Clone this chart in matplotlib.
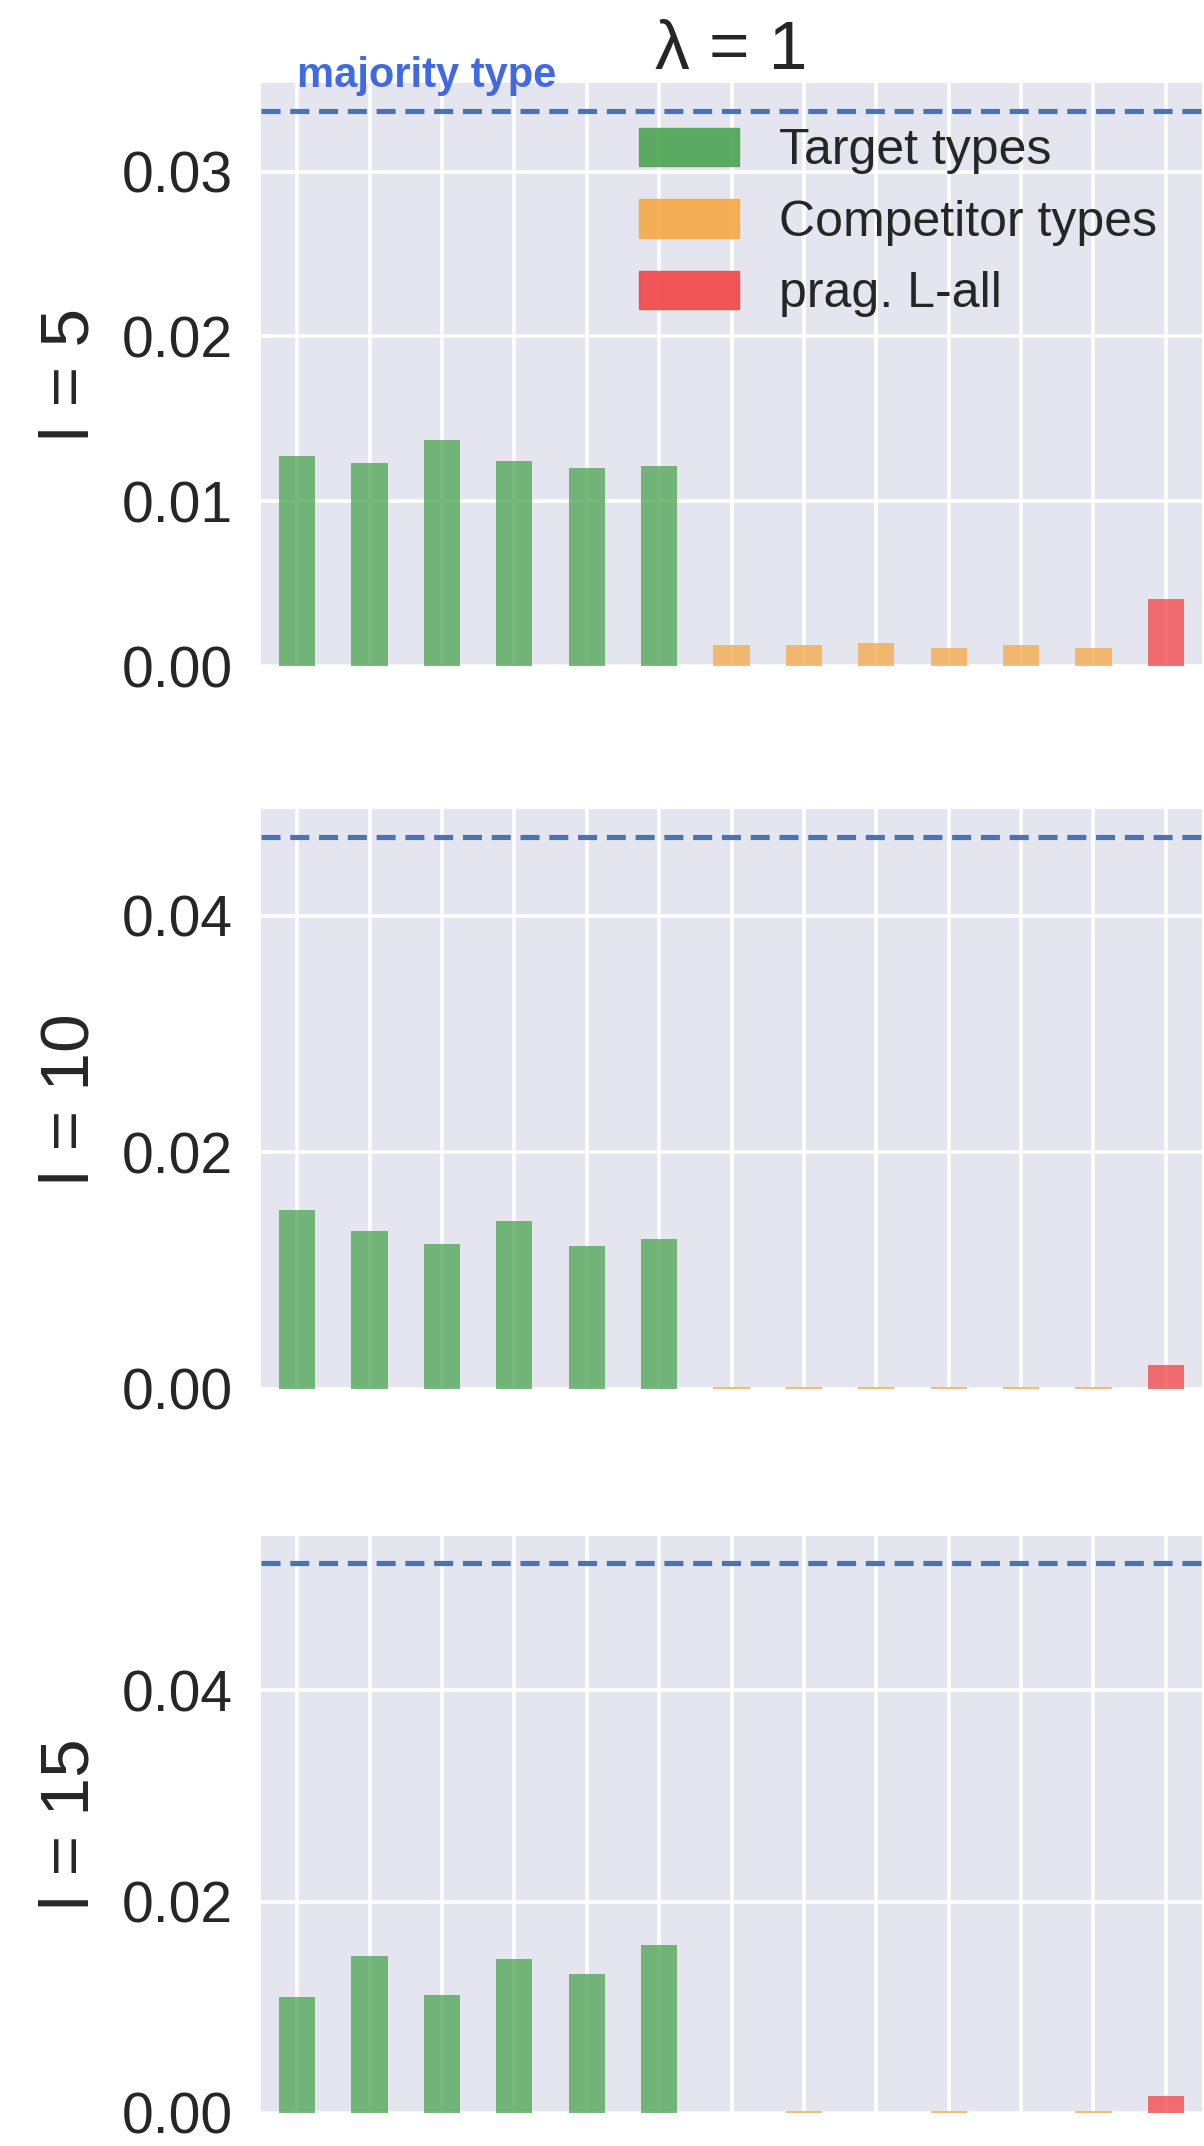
import numpy as np
import matplotlib
matplotlib.use('Agg')
import matplotlib.pyplot as plt
from matplotlib.patches import Patch
from matplotlib.ticker import MultipleLocator

# probability mass per type, lambda = 1
lengths = [5, 10, 15]
target_l5 = [0.01275, 0.0123, 0.01372, 0.01247, 0.0120, 0.01216]
competitor_l5 = [0.00128, 0.00128, 0.00141, 0.00111, 0.00128, 0.00111]
lall_l5 = 0.00407
target_l10 = [0.01512, 0.01333, 0.01226, 0.01424, 0.01206, 0.01271]
competitor_l10 = [0.0002, 0.0002, 0.0002, 0.0002, 0.0002, 0.0002]
lall_l10 = 0.00199
target_l15 = [0.01094, 0.01488, 0.01114, 0.01461, 0.01311, 0.01587]
competitor_l15 = [0.00002, 0.00015, 0.00002, 0.00015, 0.00002, 0.00015]
lall_l15 = 0.00157
majority = [0.0337, 0.0467, 0.0520]
tick_step = [0.01, 0.02, 0.02]

targets = [target_l5, target_l10, target_l15]
competitors = [competitor_l5, competitor_l10, competitor_l15]
lalls = [lall_l5, lall_l10, lall_l15]

green = '#55a75a'
orange = '#f5ac4e'
red = '#f24d4f'
bg = '#e5e5ef'

plt.rcParams['font.family'] = ['Liberation Sans', 'DejaVu Sans']
plt.rcParams['text.color'] = '#262626'
plt.rcParams['axes.labelcolor'] = '#262626'
plt.rcParams['ytick.color'] = '#262626'

W, H = 1204, 2146
fig = plt.figure(figsize=(W / 100, H / 100), dpi=100)

# pixel boxes of the three panels (left, top, right, bottom)
boxes = [(261, 83, 1202, 666), (261, 809, 1202, 1389), (261, 1536, 1202, 2113)]

for i, (l, t, r, b) in enumerate(boxes):
    ax = fig.add_axes([l / W, 1 - b / H, (r - l) / W, (b - t) / H])
    ax.set_facecolor(bg)
    for s in ax.spines.values():
        s.set_visible(False)
    ax.set_axisbelow(True)
    ax.grid(True, color='white', linewidth=2.6)

    heights = list(targets[i]) + list(competitors[i]) + [lalls[i]]
    cols = [green] * 6 + [orange] * 6 + [red]
    x = np.arange(len(heights))
    ax.bar(x, heights, width=0.5, color=cols, alpha=0.8, linewidth=0)

    ax.axhline(majority[i], color='#4c72b0', linewidth=3.7, linestyle=(0, (3.7, 1.9)))

    ax.set_xlim(-0.5, len(heights) - 0.5)
    ax.set_ylim(0, majority[i] * 1.05)
    ax.set_xticks(x)
    ax.set_xticklabels([])
    ax.yaxis.set_major_locator(MultipleLocator(tick_step[i]))
    ax.yaxis.set_major_formatter(plt.FormatStrFormatter('%.2f'))
    ax.tick_params(axis='both', length=0, labelsize=41, pad=20)
    ax.set_ylabel('l = %d' % lengths[i], fontsize=50, labelpad=14)

    if i == 0:
        ax.set_title('λ = 1', fontsize=50, pad=8)
        ax.text(0, majority[i] * 1.042, 'majority type', color='#4169E1',
                fontsize=30, fontweight='bold', ha='left', va='baseline')
        handles = [Patch(color=green, alpha=0.95), Patch(color=orange, alpha=0.95),
                   Patch(color=red, alpha=0.95)]
        ax.legend(handles, ['Target types', 'Competitor types', 'prag. L-all'],
                  loc='upper right', fontsize=36, frameon=False, labelspacing=0.5,
                  handleheight=0.8)

fig.savefig('out.png', dpi=100)
